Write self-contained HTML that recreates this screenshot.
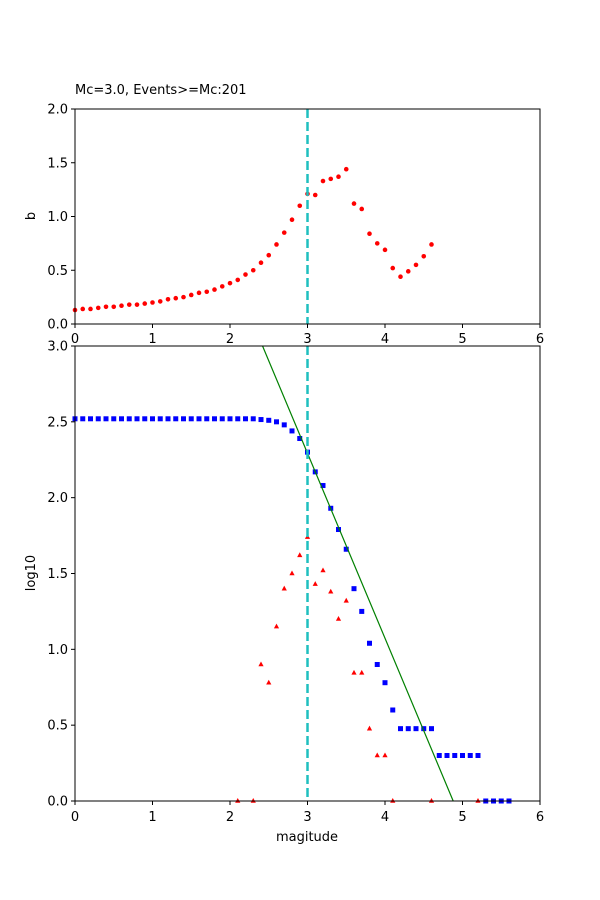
<!DOCTYPE html>
<html><head><meta charset="utf-8"><style>body{margin:0;background:#fff}svg{display:block;font-family:"DejaVu Sans","Liberation Sans",sans-serif}</style></head>
<body>
<svg id="s" width="600" height="900" xmlns="http://www.w3.org/2000/svg">
<rect width="600" height="900" fill="#fff"/>
<text x="75" y="94" font-size="13">Mc=3.0, Events&gt;=Mc:201</text>
<g id="g"></g>
</svg>
<script>
var g=document.getElementById('g'),h='';
function X(m){return 75+m*77.5;}
function Y1(v){return 324-v*107.5;}
function Y2(v){return 801-v*151.67;}
var b=[0.13,0.14,0.14,0.15,0.16,0.16,0.17,0.18,0.18,0.19,0.20,0.21,0.23,0.24,0.25,0.27,0.29,0.30,0.32,0.35,0.38,0.41,0.46,0.50,0.57,0.64,0.74,0.85,0.97,1.10,1.21,1.20,1.33,1.35,1.37,1.44,1.12,1.07,0.84,0.75,0.69,0.52,0.44,0.49,0.55,0.63,0.74];
b.forEach(function(v,i){h+='<circle cx="'+X(i/10)+'" cy="'+Y1(v)+'" r="2.3" fill="red"/>';});
var bl=[];for(var i=0;i<=23;i++)bl.push(2.52);
bl=bl.concat([2.515,2.51,2.50,2.48,2.44,2.39,2.30,2.17,2.08,1.93,1.79,1.66,1.40,1.25,1.04,0.90,0.78,0.60,0.477,0.477,0.477,0.477,0.477,0.30,0.30,0.30,0.30,0.30,0.30,0,0,0,0]);
bl.forEach(function(v,i){h+='<rect x="'+(X(i/10)-2.5)+'" y="'+(Y2(v)-2.5)+'" width="5" height="5" fill="blue"/>';});
var tr=[[2.1,0],[2.3,0],[2.4,0.90],[2.5,0.78],[2.6,1.15],[2.7,1.40],[2.8,1.50],[2.9,1.62],[3.0,1.74],[3.1,1.43],[3.2,1.52],[3.3,1.38],[3.4,1.20],[3.5,1.32],[3.6,0.845],[3.7,0.845],[3.8,0.477],[3.9,0.30],[4.0,0.30],[4.1,0],[4.6,0],[5.2,0]];
tr.forEach(function(p){var x=X(p[0]),y=Y2(p[1]);h+='<polygon points="'+x+','+(y-3)+' '+(x+2.6)+','+(y+1.8)+' '+(x-2.6)+','+(y+1.8)+'" fill="red"/>';});
// green line
h+='<line x1="'+X(2.42)+'" y1="346" x2="'+X(4.88)+'" y2="801" stroke="green" stroke-width="1.2"/>';
// dashed lines
h+='<line x1="'+X(3)+'" y1="109" x2="'+X(3)+'" y2="324" stroke="#17becf" stroke-width="2.5" stroke-dasharray="9,4" style="stroke:#1fbfbf"/>';
h+='<line x1="'+X(3)+'" y1="346" x2="'+X(3)+'" y2="801" stroke="#1fbfbf" stroke-width="2.5" stroke-dasharray="9,4"/>';
// axes frames
h+='<rect x="75" y="109" width="465" height="215" fill="none" stroke="#000" stroke-width="1"/>';
h+='<rect x="75" y="346" width="465" height="455" fill="none" stroke="#000" stroke-width="1"/>';
for(var k=0;k<=6;k++){var x=X(k);
h+='<line x1="'+x+'" y1="324" x2="'+x+'" y2="328" stroke="#000"/><text x="'+x+'" y="343" font-size="13" text-anchor="middle">'+k+'</text>';
h+='<line x1="'+x+'" y1="801" x2="'+x+'" y2="805" stroke="#000"/><text x="'+x+'" y="821" font-size="13" text-anchor="middle">'+k+'</text>';}
['0.0','0.5','1.0','1.5','2.0'].forEach(function(t,i){var y=Y1(i*0.5);h+='<line x1="71" y1="'+y+'" x2="75" y2="'+y+'" stroke="#000"/><text x="68" y="'+(y+4.5)+'" font-size="13" text-anchor="end">'+t+'</text>';});
['0.0','0.5','1.0','1.5','2.0','2.5','3.0'].forEach(function(t,i){var y=Y2(i*0.5);h+='<line x1="71" y1="'+y+'" x2="75" y2="'+y+'" stroke="#000"/><text x="68" y="'+(y+4.5)+'" font-size="13" text-anchor="end">'+t+'</text>';});
h+='<text x="35" y="216" font-size="13" text-anchor="middle" transform="rotate(-90 35 216)">b</text>';
h+='<text x="35" y="573" font-size="13" text-anchor="middle" transform="rotate(-90 35 573)">log10</text>';
h+='<text x="307" y="841" font-size="13" text-anchor="middle">magitude</text>';
g.innerHTML=h;
</script>
</body></html>
